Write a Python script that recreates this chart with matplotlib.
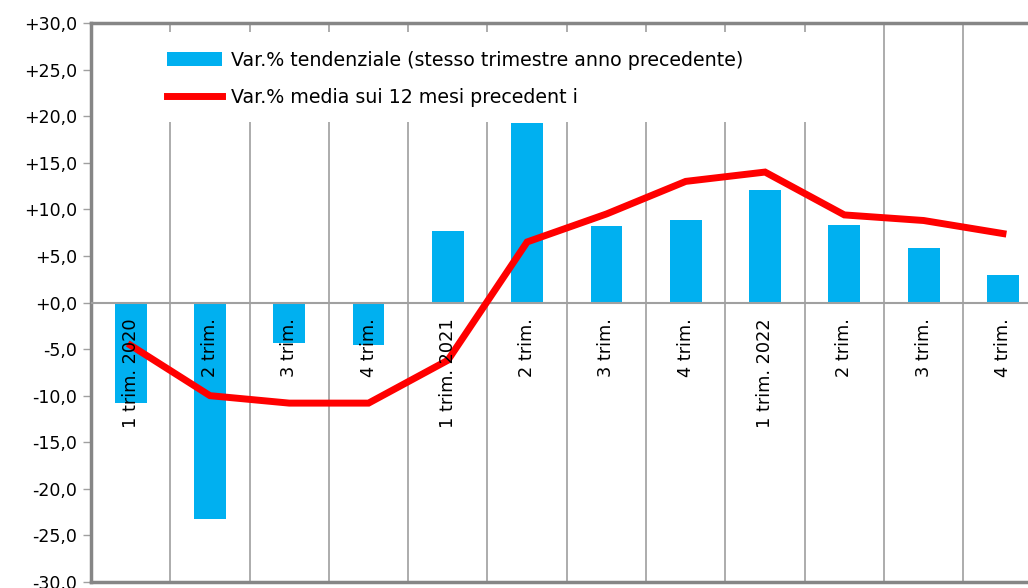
import matplotlib
matplotlib.use("Agg")
import matplotlib.pyplot as plt
from matplotlib.patches import Rectangle
import numpy as np

categories = ["1 trim. 2020", "2 trim.", "3 trim.", "4 trim.",
              "1 trim. 2021", "2 trim.", "3 trim.", "4 trim.",
              "1 trim. 2022", "2 trim.", "3 trim.", "4 trim."]
var_tendenziale = [-10.8, -23.2, -4.3, -4.6, 7.7, 19.3, 8.2, 8.9, 12.1, 8.3, 5.9, 3.0]
var_media = [-4.6, -10.0, -10.8, -10.8, -6.2, 6.5, 9.5, 13.0, 14.0, 9.4, 8.8, 7.4]
y_ticks = [-30, -25, -20, -15, -10, -5, 0, 5, 10, 15, 20, 25, 30]
label_bar = "Var.% tendenziale (stesso trimestre anno precedente)"
label_line = "Var.% media sui 12 mesi precedent i"

plt.rcParams['font.family'] = ['DejaVu Sans']
fig = plt.figure(figsize=(10.28, 5.88), dpi=100)
ax = fig.add_axes([91/1028, 1-582/588, 951.6/1028, 559/588])

x = np.arange(len(categories))
gray = "#868686"
bars = ax.bar(x, var_tendenziale, width=0.4, color="#00B0F0", label=label_bar, zorder=2)
line, = ax.plot(x, var_media, color="#FF0000", lw=5, label=label_line, zorder=4,
                solid_joinstyle="miter")

ax.set_xlim(-0.5, len(categories) - 0.5)
ax.set_ylim(-30, 30)
ax.set_yticks(y_ticks)
ax.set_yticklabels([f"{v:+.1f}".replace(".", ",") if v != 0 else "+0,0" for v in y_ticks],
                   fontsize=12.5)
ax.tick_params(axis='y', length=6, width=1, color="#A0A0A0", pad=4)
ax.set_xticks([])
ax.set_xticks(np.arange(len(categories) + 1) - 0.5, minor=True)
ax.tick_params(axis='x', which='minor', length=0)
ax.set_axisbelow(True)
ax.grid(True, axis='x', which='minor', color="#A6A6A6", lw=1.3)
ax.axhline(0, color="#A0A0A0", lw=1.5, zorder=3)

# white legend area that hides the gridlines behind it
ax.add_patch(Rectangle((69/951.6, (582-122)/559), (749-69)/951.6, 90/559,
                       transform=ax.transAxes, facecolor="white", edgecolor="none",
                       zorder=1.8))

for s in ax.spines.values():
    s.set_color(gray)
    s.set_linewidth(2.5)

for xi, lab in zip(x, categories):
    ax.text(xi, -1.7, lab, rotation=90, ha='center', va='top', fontsize=12.8, zorder=5)

leg = ax.legend([bars, line], [label_bar, label_line],
                loc='upper left', bbox_to_anchor=(0.054, 0.995), frameon=False,
                fontsize=13.7, handlelength=2.9, handleheight=0.75, handletextpad=0.45,
                labelspacing=0.95, borderpad=0.8)
leg.set_zorder(6)

fig.savefig("out.png", dpi=100)
